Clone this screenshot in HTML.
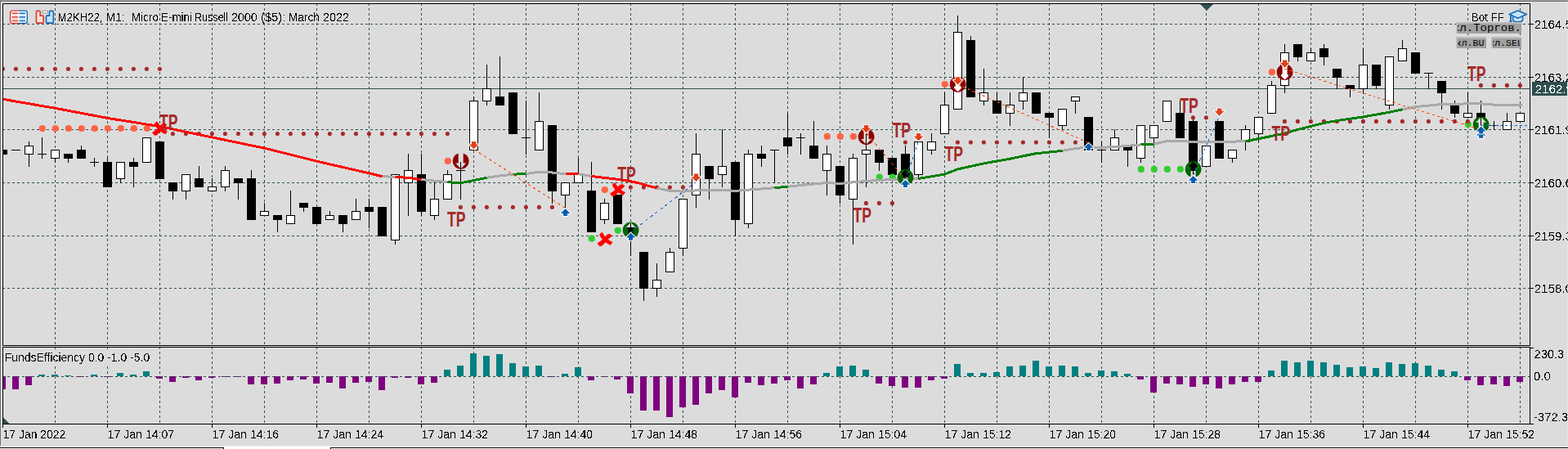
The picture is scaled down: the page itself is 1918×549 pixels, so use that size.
<!DOCTYPE html><html><head><meta charset="utf-8"><title>M2KH22 M1</title><style>html,body{margin:0;padding:0;background:#dcdcdc;overflow:hidden}body{width:1918px;height:549px;font-family:"Liberation Sans",sans-serif}svg{display:block}</style></head><body><svg width="1918" height="549" viewBox="0 0 1918 549" style="display:block">
<rect width="1918" height="549" fill="#dcdcdc"/>
<g shape-rendering="crispEdges">
<rect x="0" y="0" width="1918" height="1" fill="#a6a6a6"/>
<rect x="0" y="1" width="1918" height="1" fill="#6a6a6a"/>
<rect x="0" y="2" width="1918" height="1" fill="#e3e3e3"/>
<rect x="0" y="0" width="1" height="549" fill="#707070"/>
<rect x="1" y="2" width="1" height="547" fill="#e3e3e3"/>
<rect x="1917" y="2" width="1" height="547" fill="#e6e6e6"/>
<rect x="0" y="545" width="1918" height="1" fill="#ececec"/>
<rect x="0" y="546" width="1918" height="3" fill="#ffffff"/>
<rect x="0" y="547" width="274" height="1" fill="#000"/>
<rect x="273" y="547" width="1" height="2" fill="#000"/>
<rect x="404" y="547" width="1514" height="1" fill="#000"/>
<rect x="404" y="547" width="1" height="2" fill="#000"/>
</g>
<g shape-rendering="crispEdges" stroke="#2f4f4f" stroke-width="1" stroke-dasharray="3,3" fill="none">
<line x1="67.5" y1="4" x2="67.5" y2="422"/>
<line x1="67.5" y1="424" x2="67.5" y2="518"/>
<line x1="131.5" y1="4" x2="131.5" y2="422"/>
<line x1="131.5" y1="424" x2="131.5" y2="518"/>
<line x1="195.5" y1="4" x2="195.5" y2="422"/>
<line x1="195.5" y1="424" x2="195.5" y2="518"/>
<line x1="259.5" y1="4" x2="259.5" y2="422"/>
<line x1="259.5" y1="424" x2="259.5" y2="518"/>
<line x1="323.5" y1="4" x2="323.5" y2="422"/>
<line x1="323.5" y1="424" x2="323.5" y2="518"/>
<line x1="387.5" y1="4" x2="387.5" y2="422"/>
<line x1="387.5" y1="424" x2="387.5" y2="518"/>
<line x1="451.5" y1="4" x2="451.5" y2="422"/>
<line x1="451.5" y1="424" x2="451.5" y2="518"/>
<line x1="515.5" y1="4" x2="515.5" y2="422"/>
<line x1="515.5" y1="424" x2="515.5" y2="518"/>
<line x1="579.5" y1="4" x2="579.5" y2="422"/>
<line x1="579.5" y1="424" x2="579.5" y2="518"/>
<line x1="643.5" y1="4" x2="643.5" y2="422"/>
<line x1="643.5" y1="424" x2="643.5" y2="518"/>
<line x1="707.5" y1="4" x2="707.5" y2="422"/>
<line x1="707.5" y1="424" x2="707.5" y2="518"/>
<line x1="771.5" y1="4" x2="771.5" y2="422"/>
<line x1="771.5" y1="424" x2="771.5" y2="518"/>
<line x1="835.5" y1="4" x2="835.5" y2="422"/>
<line x1="835.5" y1="424" x2="835.5" y2="518"/>
<line x1="899.5" y1="4" x2="899.5" y2="422"/>
<line x1="899.5" y1="424" x2="899.5" y2="518"/>
<line x1="963.5" y1="4" x2="963.5" y2="422"/>
<line x1="963.5" y1="424" x2="963.5" y2="518"/>
<line x1="1027.5" y1="4" x2="1027.5" y2="422"/>
<line x1="1027.5" y1="424" x2="1027.5" y2="518"/>
<line x1="1091.5" y1="4" x2="1091.5" y2="422"/>
<line x1="1091.5" y1="424" x2="1091.5" y2="518"/>
<line x1="1155.5" y1="4" x2="1155.5" y2="422"/>
<line x1="1155.5" y1="424" x2="1155.5" y2="518"/>
<line x1="1219.5" y1="4" x2="1219.5" y2="422"/>
<line x1="1219.5" y1="424" x2="1219.5" y2="518"/>
<line x1="1283.5" y1="4" x2="1283.5" y2="422"/>
<line x1="1283.5" y1="424" x2="1283.5" y2="518"/>
<line x1="1347.5" y1="4" x2="1347.5" y2="422"/>
<line x1="1347.5" y1="424" x2="1347.5" y2="518"/>
<line x1="1411.5" y1="4" x2="1411.5" y2="422"/>
<line x1="1411.5" y1="424" x2="1411.5" y2="518"/>
<line x1="1475.5" y1="4" x2="1475.5" y2="422"/>
<line x1="1475.5" y1="424" x2="1475.5" y2="518"/>
<line x1="1539.5" y1="4" x2="1539.5" y2="422"/>
<line x1="1539.5" y1="424" x2="1539.5" y2="518"/>
<line x1="1603.5" y1="4" x2="1603.5" y2="422"/>
<line x1="1603.5" y1="424" x2="1603.5" y2="518"/>
<line x1="1667.5" y1="4" x2="1667.5" y2="422"/>
<line x1="1667.5" y1="424" x2="1667.5" y2="518"/>
<line x1="1731.5" y1="4" x2="1731.5" y2="422"/>
<line x1="1731.5" y1="424" x2="1731.5" y2="518"/>
<line x1="1795.5" y1="4" x2="1795.5" y2="422"/>
<line x1="1795.5" y1="424" x2="1795.5" y2="518"/>
<line x1="1859.5" y1="4" x2="1859.5" y2="422"/>
<line x1="1859.5" y1="424" x2="1859.5" y2="518"/>
<line x1="3" y1="29.5" x2="1871" y2="29.5"/>
<line x1="3" y1="94.5" x2="1871" y2="94.5"/>
<line x1="3" y1="158.5" x2="1871" y2="158.5"/>
<line x1="3" y1="223.5" x2="1871" y2="223.5"/>
<line x1="3" y1="288.5" x2="1871" y2="288.5"/>
<line x1="3" y1="352.5" x2="1871" y2="352.5"/>
<line x1="3" y1="460.5" x2="1871" y2="460.5"/>
</g>
<rect x="4" y="108" width="1867" height="1" fill="#2f4f4f" shape-rendering="crispEdges"/>
<g shape-rendering="crispEdges">
<rect x="4" y="460" width="3" height="16" fill="#800080"/>
<rect x="15" y="460" width="8" height="16" fill="#800080"/>
<rect x="31" y="460" width="8" height="11" fill="#800080"/>
<rect x="47" y="458" width="8" height="2" fill="#008080"/>
<rect x="63" y="458" width="8" height="2" fill="#008080"/>
<rect x="79" y="459" width="8" height="1" fill="#008080"/>
<rect x="95" y="460" width="8" height="1" fill="#800080"/>
<rect x="111" y="458" width="8" height="2" fill="#008080"/>
<rect x="127" y="460" width="8" height="1" fill="#800080"/>
<rect x="143" y="456" width="8" height="4" fill="#008080"/>
<rect x="159" y="458" width="8" height="2" fill="#008080"/>
<rect x="175" y="454" width="8" height="6" fill="#008080"/>
<rect x="191" y="460" width="8" height="3" fill="#800080"/>
<rect x="207" y="460" width="8" height="7" fill="#800080"/>
<rect x="223" y="460" width="8" height="2" fill="#800080"/>
<rect x="239" y="460" width="8" height="5" fill="#800080"/>
<rect x="255" y="460" width="8" height="2" fill="#800080"/>
<rect x="271" y="460" width="8" height="1" fill="#800080"/>
<rect x="287" y="460" width="8" height="1" fill="#800080"/>
<rect x="303" y="460" width="8" height="10" fill="#800080"/>
<rect x="319" y="460" width="8" height="10" fill="#800080"/>
<rect x="335" y="460" width="8" height="9" fill="#800080"/>
<rect x="351" y="460" width="8" height="5" fill="#800080"/>
<rect x="367" y="460" width="8" height="4" fill="#800080"/>
<rect x="383" y="460" width="8" height="9" fill="#800080"/>
<rect x="399" y="460" width="8" height="8" fill="#800080"/>
<rect x="415" y="460" width="8" height="15" fill="#800080"/>
<rect x="431" y="460" width="8" height="8" fill="#800080"/>
<rect x="447" y="460" width="8" height="7" fill="#800080"/>
<rect x="463" y="460" width="8" height="17" fill="#800080"/>
<rect x="479" y="460" width="8" height="2" fill="#800080"/>
<rect x="495" y="460" width="8" height="2" fill="#800080"/>
<rect x="511" y="460" width="8" height="10" fill="#800080"/>
<rect x="527" y="460" width="8" height="8" fill="#800080"/>
<rect x="543" y="452" width="8" height="8" fill="#008080"/>
<rect x="559" y="447" width="8" height="13" fill="#008080"/>
<rect x="575" y="432" width="8" height="28" fill="#008080"/>
<rect x="591" y="435" width="8" height="25" fill="#008080"/>
<rect x="607" y="433" width="8" height="27" fill="#008080"/>
<rect x="623" y="444" width="8" height="16" fill="#008080"/>
<rect x="639" y="448" width="8" height="12" fill="#008080"/>
<rect x="655" y="447" width="8" height="13" fill="#008080"/>
<rect x="671" y="460" width="8" height="1" fill="#800080"/>
<rect x="687" y="457" width="8" height="3" fill="#008080"/>
<rect x="703" y="449" width="8" height="11" fill="#008080"/>
<rect x="719" y="460" width="8" height="5" fill="#800080"/>
<rect x="735" y="460" width="8" height="1" fill="#800080"/>
<rect x="751" y="460" width="8" height="4" fill="#800080"/>
<rect x="767" y="460" width="8" height="21" fill="#800080"/>
<rect x="783" y="460" width="8" height="42" fill="#800080"/>
<rect x="799" y="460" width="8" height="42" fill="#800080"/>
<rect x="815" y="460" width="8" height="50" fill="#800080"/>
<rect x="831" y="460" width="8" height="38" fill="#800080"/>
<rect x="847" y="460" width="8" height="35" fill="#800080"/>
<rect x="863" y="460" width="8" height="21" fill="#800080"/>
<rect x="879" y="460" width="8" height="17" fill="#800080"/>
<rect x="895" y="460" width="8" height="26" fill="#800080"/>
<rect x="911" y="460" width="8" height="8" fill="#800080"/>
<rect x="927" y="460" width="8" height="11" fill="#800080"/>
<rect x="943" y="460" width="8" height="9" fill="#800080"/>
<rect x="959" y="460" width="8" height="5" fill="#800080"/>
<rect x="975" y="460" width="8" height="15" fill="#800080"/>
<rect x="991" y="460" width="8" height="10" fill="#800080"/>
<rect x="1007" y="456" width="8" height="4" fill="#008080"/>
<rect x="1023" y="448" width="8" height="12" fill="#008080"/>
<rect x="1039" y="447" width="8" height="13" fill="#008080"/>
<rect x="1055" y="452" width="8" height="8" fill="#008080"/>
<rect x="1071" y="460" width="8" height="9" fill="#800080"/>
<rect x="1087" y="460" width="8" height="12" fill="#800080"/>
<rect x="1103" y="460" width="8" height="14" fill="#800080"/>
<rect x="1119" y="460" width="8" height="14" fill="#800080"/>
<rect x="1135" y="460" width="8" height="5" fill="#800080"/>
<rect x="1151" y="460" width="8" height="3" fill="#800080"/>
<rect x="1167" y="445" width="8" height="15" fill="#008080"/>
<rect x="1183" y="456" width="8" height="4" fill="#008080"/>
<rect x="1199" y="456" width="8" height="4" fill="#008080"/>
<rect x="1215" y="455" width="8" height="5" fill="#008080"/>
<rect x="1231" y="448" width="8" height="12" fill="#008080"/>
<rect x="1247" y="447" width="8" height="13" fill="#008080"/>
<rect x="1263" y="441" width="8" height="19" fill="#008080"/>
<rect x="1279" y="448" width="8" height="12" fill="#008080"/>
<rect x="1295" y="447" width="8" height="13" fill="#008080"/>
<rect x="1311" y="448" width="8" height="12" fill="#008080"/>
<rect x="1327" y="456" width="8" height="4" fill="#008080"/>
<rect x="1343" y="453" width="8" height="7" fill="#008080"/>
<rect x="1359" y="454" width="8" height="6" fill="#008080"/>
<rect x="1375" y="457" width="8" height="3" fill="#008080"/>
<rect x="1391" y="460" width="8" height="4" fill="#800080"/>
<rect x="1407" y="460" width="8" height="20" fill="#800080"/>
<rect x="1423" y="460" width="8" height="9" fill="#800080"/>
<rect x="1439" y="460" width="8" height="10" fill="#800080"/>
<rect x="1455" y="460" width="8" height="13" fill="#800080"/>
<rect x="1471" y="460" width="8" height="10" fill="#800080"/>
<rect x="1487" y="460" width="8" height="15" fill="#800080"/>
<rect x="1503" y="460" width="8" height="10" fill="#800080"/>
<rect x="1519" y="460" width="8" height="7" fill="#800080"/>
<rect x="1535" y="460" width="8" height="7" fill="#800080"/>
<rect x="1551" y="453" width="8" height="7" fill="#008080"/>
<rect x="1567" y="441" width="8" height="19" fill="#008080"/>
<rect x="1583" y="443" width="8" height="17" fill="#008080"/>
<rect x="1599" y="441" width="8" height="19" fill="#008080"/>
<rect x="1615" y="443" width="8" height="17" fill="#008080"/>
<rect x="1631" y="446" width="8" height="14" fill="#008080"/>
<rect x="1647" y="449" width="8" height="11" fill="#008080"/>
<rect x="1663" y="448" width="8" height="12" fill="#008080"/>
<rect x="1679" y="450" width="8" height="10" fill="#008080"/>
<rect x="1695" y="443" width="8" height="17" fill="#008080"/>
<rect x="1711" y="445" width="8" height="15" fill="#008080"/>
<rect x="1727" y="444" width="8" height="16" fill="#008080"/>
<rect x="1743" y="447" width="8" height="13" fill="#008080"/>
<rect x="1759" y="452" width="8" height="8" fill="#008080"/>
<rect x="1775" y="454" width="8" height="6" fill="#008080"/>
<rect x="1791" y="460" width="8" height="5" fill="#800080"/>
<rect x="1807" y="460" width="8" height="11" fill="#800080"/>
<rect x="1823" y="460" width="8" height="10" fill="#800080"/>
<rect x="1839" y="460" width="8" height="12" fill="#800080"/>
<rect x="1855" y="460" width="8" height="7" fill="#800080"/>
</g>
<line x1="3" y1="460.5" x2="1871" y2="460.5" stroke="#2f4f4f" stroke-dasharray="3,3" shape-rendering="crispEdges"/>
<g shape-rendering="crispEdges">
<rect x="3" y="183" width="1" height="6" fill="#000"/>
<rect x="4" y="183" width="5" height="6" fill="#000"/>
<rect x="19" y="183" width="1" height="1" fill="#000"/>
<rect x="14" y="183" width="11" height="1" fill="#000"/>
<rect x="35" y="173" width="1" height="31" fill="#000"/>
<rect x="30" y="178" width="11" height="11" fill="#000"/>
<rect x="31" y="179" width="9" height="9" fill="#fff"/>
<rect x="51" y="168" width="1" height="26" fill="#000"/>
<rect x="46" y="188" width="11" height="1" fill="#000"/>
<rect x="67" y="183" width="1" height="16" fill="#000"/>
<rect x="62" y="183" width="11" height="11" fill="#000"/>
<rect x="63" y="184" width="9" height="9" fill="#fff"/>
<rect x="83" y="188" width="1" height="11" fill="#000"/>
<rect x="78" y="188" width="11" height="6" fill="#000"/>
<rect x="99" y="178" width="1" height="16" fill="#000"/>
<rect x="94" y="183" width="11" height="11" fill="#000"/>
<rect x="115" y="193" width="1" height="11" fill="#000"/>
<rect x="110" y="198" width="11" height="1" fill="#000"/>
<rect x="131" y="193" width="1" height="36" fill="#000"/>
<rect x="126" y="198" width="11" height="31" fill="#000"/>
<rect x="147" y="198" width="1" height="26" fill="#000"/>
<rect x="142" y="198" width="11" height="21" fill="#000"/>
<rect x="143" y="199" width="9" height="19" fill="#fff"/>
<rect x="163" y="193" width="1" height="36" fill="#000"/>
<rect x="158" y="198" width="11" height="6" fill="#000"/>
<rect x="179" y="168" width="1" height="31" fill="#000"/>
<rect x="174" y="168" width="11" height="31" fill="#000"/>
<rect x="175" y="169" width="9" height="29" fill="#fff"/>
<rect x="195" y="173" width="1" height="46" fill="#000"/>
<rect x="190" y="173" width="11" height="46" fill="#000"/>
<rect x="211" y="223" width="1" height="21" fill="#000"/>
<rect x="206" y="223" width="11" height="11" fill="#000"/>
<rect x="227" y="213" width="1" height="31" fill="#000"/>
<rect x="222" y="213" width="11" height="21" fill="#000"/>
<rect x="223" y="214" width="9" height="19" fill="#fff"/>
<rect x="243" y="203" width="1" height="26" fill="#000"/>
<rect x="238" y="218" width="11" height="11" fill="#000"/>
<rect x="259" y="218" width="1" height="16" fill="#000"/>
<rect x="254" y="228" width="11" height="6" fill="#000"/>
<rect x="255" y="229" width="9" height="4" fill="#fff"/>
<rect x="275" y="203" width="1" height="31" fill="#000"/>
<rect x="270" y="208" width="11" height="21" fill="#000"/>
<rect x="271" y="209" width="9" height="19" fill="#fff"/>
<rect x="291" y="218" width="1" height="26" fill="#000"/>
<rect x="286" y="218" width="11" height="6" fill="#000"/>
<rect x="307" y="208" width="1" height="61" fill="#000"/>
<rect x="302" y="218" width="11" height="51" fill="#000"/>
<rect x="323" y="248" width="1" height="16" fill="#000"/>
<rect x="318" y="258" width="11" height="6" fill="#000"/>
<rect x="319" y="259" width="9" height="4" fill="#fff"/>
<rect x="339" y="263" width="1" height="21" fill="#000"/>
<rect x="334" y="263" width="11" height="6" fill="#000"/>
<rect x="355" y="233" width="1" height="41" fill="#000"/>
<rect x="350" y="263" width="11" height="11" fill="#000"/>
<rect x="351" y="264" width="9" height="9" fill="#fff"/>
<rect x="371" y="248" width="1" height="11" fill="#000"/>
<rect x="366" y="248" width="11" height="6" fill="#000"/>
<rect x="387" y="253" width="1" height="21" fill="#000"/>
<rect x="382" y="253" width="11" height="21" fill="#000"/>
<rect x="403" y="258" width="1" height="11" fill="#000"/>
<rect x="398" y="263" width="11" height="6" fill="#000"/>
<rect x="399" y="264" width="9" height="4" fill="#fff"/>
<rect x="419" y="263" width="1" height="21" fill="#000"/>
<rect x="414" y="263" width="11" height="11" fill="#000"/>
<rect x="435" y="243" width="1" height="26" fill="#000"/>
<rect x="430" y="258" width="11" height="11" fill="#000"/>
<rect x="431" y="259" width="9" height="9" fill="#fff"/>
<rect x="451" y="243" width="1" height="36" fill="#000"/>
<rect x="446" y="253" width="11" height="6" fill="#000"/>
<rect x="467" y="253" width="1" height="36" fill="#000"/>
<rect x="462" y="253" width="11" height="36" fill="#000"/>
<rect x="483" y="213" width="1" height="86" fill="#000"/>
<rect x="478" y="213" width="11" height="81" fill="#000"/>
<rect x="479" y="214" width="9" height="79" fill="#fff"/>
<rect x="499" y="188" width="1" height="76" fill="#000"/>
<rect x="494" y="208" width="11" height="16" fill="#000"/>
<rect x="495" y="209" width="9" height="14" fill="#fff"/>
<rect x="515" y="188" width="1" height="76" fill="#000"/>
<rect x="510" y="213" width="11" height="46" fill="#000"/>
<rect x="531" y="223" width="1" height="46" fill="#000"/>
<rect x="526" y="243" width="11" height="21" fill="#000"/>
<rect x="527" y="244" width="9" height="19" fill="#fff"/>
<rect x="547" y="208" width="1" height="36" fill="#000"/>
<rect x="542" y="213" width="11" height="31" fill="#000"/>
<rect x="543" y="214" width="9" height="29" fill="#fff"/>
<rect x="563" y="198" width="1" height="46" fill="#000"/>
<rect x="558" y="208" width="11" height="1" fill="#000"/>
<rect x="579" y="118" width="1" height="66" fill="#000"/>
<rect x="574" y="123" width="11" height="61" fill="#000"/>
<rect x="575" y="124" width="9" height="59" fill="#fff"/>
<rect x="595" y="79" width="1" height="50" fill="#000"/>
<rect x="590" y="108" width="11" height="16" fill="#000"/>
<rect x="591" y="109" width="9" height="14" fill="#fff"/>
<rect x="611" y="69" width="1" height="60" fill="#000"/>
<rect x="606" y="118" width="11" height="11" fill="#000"/>
<rect x="627" y="113" width="1" height="51" fill="#000"/>
<rect x="622" y="113" width="11" height="51" fill="#000"/>
<rect x="643" y="123" width="1" height="66" fill="#000"/>
<rect x="638" y="168" width="11" height="1" fill="#000"/>
<rect x="659" y="113" width="1" height="71" fill="#000"/>
<rect x="654" y="148" width="11" height="36" fill="#000"/>
<rect x="655" y="149" width="9" height="34" fill="#fff"/>
<rect x="675" y="153" width="1" height="96" fill="#000"/>
<rect x="670" y="153" width="11" height="81" fill="#000"/>
<rect x="691" y="223" width="1" height="31" fill="#000"/>
<rect x="686" y="223" width="11" height="16" fill="#000"/>
<rect x="687" y="224" width="9" height="14" fill="#fff"/>
<rect x="707" y="193" width="1" height="31" fill="#000"/>
<rect x="702" y="213" width="11" height="11" fill="#000"/>
<rect x="703" y="214" width="9" height="9" fill="#fff"/>
<rect x="723" y="198" width="1" height="86" fill="#000"/>
<rect x="718" y="233" width="11" height="51" fill="#000"/>
<rect x="739" y="243" width="1" height="31" fill="#000"/>
<rect x="734" y="248" width="11" height="21" fill="#000"/>
<rect x="735" y="249" width="9" height="19" fill="#fff"/>
<rect x="755" y="238" width="1" height="36" fill="#000"/>
<rect x="750" y="238" width="11" height="36" fill="#000"/>
<rect x="771" y="273" width="1" height="40" fill="#000"/>
<rect x="766" y="278" width="11" height="11" fill="#000"/>
<rect x="787" y="308" width="1" height="60" fill="#000"/>
<rect x="782" y="308" width="11" height="45" fill="#000"/>
<rect x="803" y="322" width="1" height="41" fill="#000"/>
<rect x="798" y="342" width="11" height="11" fill="#000"/>
<rect x="799" y="343" width="9" height="9" fill="#fff"/>
<rect x="819" y="303" width="1" height="30" fill="#000"/>
<rect x="814" y="308" width="11" height="25" fill="#000"/>
<rect x="815" y="309" width="9" height="23" fill="#fff"/>
<rect x="835" y="243" width="1" height="70" fill="#000"/>
<rect x="830" y="243" width="11" height="61" fill="#000"/>
<rect x="831" y="244" width="9" height="59" fill="#fff"/>
<rect x="851" y="163" width="1" height="91" fill="#000"/>
<rect x="846" y="188" width="11" height="51" fill="#000"/>
<rect x="847" y="189" width="9" height="49" fill="#fff"/>
<rect x="867" y="203" width="1" height="41" fill="#000"/>
<rect x="862" y="203" width="11" height="16" fill="#000"/>
<rect x="883" y="158" width="1" height="71" fill="#000"/>
<rect x="878" y="203" width="11" height="11" fill="#000"/>
<rect x="879" y="204" width="9" height="9" fill="#fff"/>
<rect x="899" y="198" width="1" height="91" fill="#000"/>
<rect x="894" y="198" width="11" height="71" fill="#000"/>
<rect x="915" y="183" width="1" height="96" fill="#000"/>
<rect x="910" y="188" width="11" height="86" fill="#000"/>
<rect x="911" y="189" width="9" height="84" fill="#fff"/>
<rect x="931" y="178" width="1" height="26" fill="#000"/>
<rect x="926" y="188" width="11" height="6" fill="#000"/>
<rect x="947" y="183" width="1" height="41" fill="#000"/>
<rect x="942" y="183" width="11" height="1" fill="#000"/>
<rect x="963" y="138" width="1" height="51" fill="#000"/>
<rect x="958" y="168" width="11" height="11" fill="#000"/>
<rect x="979" y="163" width="1" height="26" fill="#000"/>
<rect x="974" y="168" width="11" height="1" fill="#000"/>
<rect x="995" y="148" width="1" height="46" fill="#000"/>
<rect x="990" y="178" width="11" height="16" fill="#000"/>
<rect x="1011" y="178" width="1" height="61" fill="#000"/>
<rect x="1006" y="188" width="11" height="21" fill="#000"/>
<rect x="1007" y="189" width="9" height="19" fill="#fff"/>
<rect x="1027" y="203" width="1" height="46" fill="#000"/>
<rect x="1022" y="203" width="11" height="36" fill="#000"/>
<rect x="1043" y="188" width="1" height="111" fill="#000"/>
<rect x="1038" y="193" width="11" height="51" fill="#000"/>
<rect x="1039" y="194" width="9" height="49" fill="#fff"/>
<rect x="1059" y="163" width="1" height="66" fill="#000"/>
<rect x="1054" y="183" width="11" height="6" fill="#000"/>
<rect x="1055" y="184" width="9" height="4" fill="#fff"/>
<rect x="1075" y="183" width="1" height="26" fill="#000"/>
<rect x="1070" y="183" width="11" height="16" fill="#000"/>
<rect x="1091" y="193" width="1" height="21" fill="#000"/>
<rect x="1086" y="193" width="11" height="21" fill="#000"/>
<rect x="1107" y="178" width="1" height="41" fill="#000"/>
<rect x="1102" y="188" width="11" height="31" fill="#000"/>
<rect x="1123" y="173" width="1" height="46" fill="#000"/>
<rect x="1118" y="173" width="11" height="41" fill="#000"/>
<rect x="1119" y="174" width="9" height="39" fill="#fff"/>
<rect x="1139" y="163" width="1" height="26" fill="#000"/>
<rect x="1134" y="173" width="11" height="11" fill="#000"/>
<rect x="1135" y="174" width="9" height="9" fill="#fff"/>
<rect x="1155" y="113" width="1" height="51" fill="#000"/>
<rect x="1150" y="128" width="11" height="36" fill="#000"/>
<rect x="1151" y="129" width="9" height="34" fill="#fff"/>
<rect x="1171" y="19" width="1" height="115" fill="#000"/>
<rect x="1166" y="39" width="11" height="95" fill="#000"/>
<rect x="1167" y="40" width="9" height="93" fill="#fff"/>
<rect x="1187" y="44" width="1" height="75" fill="#000"/>
<rect x="1182" y="49" width="11" height="70" fill="#000"/>
<rect x="1203" y="84" width="1" height="45" fill="#000"/>
<rect x="1198" y="113" width="11" height="11" fill="#000"/>
<rect x="1199" y="114" width="9" height="9" fill="#fff"/>
<rect x="1219" y="113" width="1" height="26" fill="#000"/>
<rect x="1214" y="123" width="11" height="16" fill="#000"/>
<rect x="1235" y="113" width="1" height="41" fill="#000"/>
<rect x="1230" y="128" width="11" height="11" fill="#000"/>
<rect x="1231" y="129" width="9" height="9" fill="#fff"/>
<rect x="1251" y="94" width="1" height="40" fill="#000"/>
<rect x="1246" y="113" width="11" height="11" fill="#000"/>
<rect x="1247" y="114" width="9" height="9" fill="#fff"/>
<rect x="1267" y="113" width="1" height="26" fill="#000"/>
<rect x="1262" y="113" width="11" height="26" fill="#000"/>
<rect x="1283" y="138" width="1" height="31" fill="#000"/>
<rect x="1278" y="138" width="11" height="6" fill="#000"/>
<rect x="1299" y="133" width="1" height="26" fill="#000"/>
<rect x="1294" y="133" width="11" height="21" fill="#000"/>
<rect x="1295" y="134" width="9" height="19" fill="#fff"/>
<rect x="1315" y="118" width="1" height="21" fill="#000"/>
<rect x="1310" y="118" width="11" height="6" fill="#000"/>
<rect x="1311" y="119" width="9" height="4" fill="#fff"/>
<rect x="1331" y="143" width="1" height="41" fill="#000"/>
<rect x="1326" y="143" width="11" height="41" fill="#000"/>
<rect x="1347" y="173" width="1" height="26" fill="#000"/>
<rect x="1342" y="183" width="11" height="1" fill="#000"/>
<rect x="1363" y="158" width="1" height="26" fill="#000"/>
<rect x="1358" y="168" width="11" height="16" fill="#000"/>
<rect x="1359" y="169" width="9" height="14" fill="#fff"/>
<rect x="1379" y="178" width="1" height="26" fill="#000"/>
<rect x="1374" y="178" width="11" height="6" fill="#000"/>
<rect x="1395" y="153" width="1" height="46" fill="#000"/>
<rect x="1390" y="153" width="11" height="41" fill="#000"/>
<rect x="1391" y="154" width="9" height="39" fill="#fff"/>
<rect x="1411" y="153" width="1" height="21" fill="#000"/>
<rect x="1406" y="153" width="11" height="16" fill="#000"/>
<rect x="1407" y="154" width="9" height="14" fill="#fff"/>
<rect x="1427" y="123" width="1" height="26" fill="#000"/>
<rect x="1422" y="123" width="11" height="26" fill="#000"/>
<rect x="1423" y="124" width="9" height="24" fill="#fff"/>
<rect x="1443" y="123" width="1" height="46" fill="#000"/>
<rect x="1438" y="138" width="11" height="31" fill="#000"/>
<rect x="1459" y="143" width="1" height="76" fill="#000"/>
<rect x="1454" y="148" width="11" height="61" fill="#000"/>
<rect x="1475" y="178" width="1" height="26" fill="#000"/>
<rect x="1470" y="178" width="11" height="26" fill="#000"/>
<rect x="1471" y="179" width="9" height="24" fill="#fff"/>
<rect x="1491" y="148" width="1" height="46" fill="#000"/>
<rect x="1486" y="148" width="11" height="46" fill="#000"/>
<rect x="1507" y="183" width="1" height="16" fill="#000"/>
<rect x="1502" y="183" width="11" height="11" fill="#000"/>
<rect x="1503" y="184" width="9" height="9" fill="#fff"/>
<rect x="1523" y="153" width="1" height="31" fill="#000"/>
<rect x="1518" y="158" width="11" height="16" fill="#000"/>
<rect x="1519" y="159" width="9" height="14" fill="#fff"/>
<rect x="1539" y="143" width="1" height="31" fill="#000"/>
<rect x="1534" y="143" width="11" height="21" fill="#000"/>
<rect x="1535" y="144" width="9" height="19" fill="#fff"/>
<rect x="1555" y="99" width="1" height="40" fill="#000"/>
<rect x="1550" y="104" width="11" height="35" fill="#000"/>
<rect x="1551" y="105" width="9" height="33" fill="#fff"/>
<rect x="1571" y="54" width="1" height="60" fill="#000"/>
<rect x="1566" y="64" width="11" height="41" fill="#000"/>
<rect x="1567" y="65" width="9" height="39" fill="#fff"/>
<rect x="1587" y="54" width="1" height="21" fill="#000"/>
<rect x="1582" y="54" width="11" height="16" fill="#000"/>
<rect x="1603" y="59" width="1" height="16" fill="#000"/>
<rect x="1598" y="64" width="11" height="11" fill="#000"/>
<rect x="1599" y="65" width="9" height="9" fill="#fff"/>
<rect x="1619" y="54" width="1" height="26" fill="#000"/>
<rect x="1614" y="59" width="11" height="11" fill="#000"/>
<rect x="1635" y="84" width="1" height="25" fill="#000"/>
<rect x="1630" y="84" width="11" height="11" fill="#000"/>
<rect x="1651" y="104" width="1" height="15" fill="#000"/>
<rect x="1646" y="104" width="11" height="5" fill="#000"/>
<rect x="1667" y="59" width="1" height="55" fill="#000"/>
<rect x="1662" y="79" width="11" height="30" fill="#000"/>
<rect x="1663" y="80" width="9" height="28" fill="#fff"/>
<rect x="1683" y="79" width="1" height="30" fill="#000"/>
<rect x="1678" y="79" width="11" height="26" fill="#000"/>
<rect x="1699" y="69" width="1" height="65" fill="#000"/>
<rect x="1694" y="69" width="11" height="60" fill="#000"/>
<rect x="1695" y="70" width="9" height="58" fill="#fff"/>
<rect x="1715" y="49" width="1" height="26" fill="#000"/>
<rect x="1710" y="59" width="11" height="16" fill="#000"/>
<rect x="1711" y="60" width="9" height="14" fill="#fff"/>
<rect x="1731" y="64" width="1" height="26" fill="#000"/>
<rect x="1726" y="64" width="11" height="26" fill="#000"/>
<rect x="1747" y="89" width="1" height="20" fill="#000"/>
<rect x="1742" y="89" width="11" height="1" fill="#000"/>
<rect x="1763" y="99" width="1" height="35" fill="#000"/>
<rect x="1758" y="99" width="11" height="15" fill="#000"/>
<rect x="1779" y="123" width="1" height="21" fill="#000"/>
<rect x="1774" y="128" width="11" height="11" fill="#000"/>
<rect x="1795" y="113" width="1" height="31" fill="#000"/>
<rect x="1790" y="138" width="11" height="6" fill="#000"/>
<rect x="1791" y="139" width="9" height="4" fill="#fff"/>
<rect x="1811" y="123" width="1" height="31" fill="#000"/>
<rect x="1806" y="138" width="11" height="6" fill="#000"/>
<rect x="1827" y="148" width="1" height="11" fill="#000"/>
<rect x="1822" y="153" width="11" height="1" fill="#000"/>
<rect x="1843" y="138" width="1" height="21" fill="#000"/>
<rect x="1838" y="148" width="11" height="11" fill="#000"/>
<rect x="1839" y="149" width="9" height="9" fill="#fff"/>
<rect x="1859" y="138" width="1" height="11" fill="#000"/>
<rect x="1854" y="138" width="11" height="11" fill="#000"/>
<rect x="1855" y="139" width="9" height="9" fill="#fff"/>
</g>
<g clip-path="url(#mainclip)">
<circle cx="51.8" cy="157" r="4.1" fill="#ff6347"/>
<circle cx="67.8" cy="157" r="4.1" fill="#ff6347"/>
<circle cx="83.8" cy="157" r="4.1" fill="#ff6347"/>
<circle cx="99.8" cy="157" r="4.1" fill="#ff6347"/>
<circle cx="115.8" cy="157" r="4.1" fill="#ff6347"/>
<circle cx="131.8" cy="157" r="4.1" fill="#ff6347"/>
<circle cx="147.8" cy="157" r="4.1" fill="#ff6347"/>
<circle cx="163.8" cy="157" r="4.1" fill="#ff6347"/>
<circle cx="179.8" cy="157" r="4.1" fill="#ff6347"/>
<circle cx="547.8" cy="196.9" r="4.1" fill="#ff6347"/>
<circle cx="739.8" cy="232.1" r="4.1" fill="#ff6347"/>
<circle cx="1011.8" cy="166.9" r="4.1" fill="#ff6347"/>
<circle cx="1027.8" cy="166.9" r="4.1" fill="#ff6347"/>
<circle cx="1043.8" cy="166.9" r="4.1" fill="#ff6347"/>
<circle cx="1155.8" cy="103" r="4.1" fill="#ff6347"/>
<circle cx="1555.8" cy="88.2" r="4.1" fill="#ff6347"/>
<circle cx="723.8" cy="291.7" r="4.1" fill="#32cd32"/>
<circle cx="755.8" cy="281.8" r="4.1" fill="#32cd32"/>
<circle cx="1075.8" cy="216.5" r="4.1" fill="#32cd32"/>
<circle cx="1091.8" cy="216.5" r="4.1" fill="#32cd32"/>
<circle cx="1395.8" cy="206.9" r="4.1" fill="#32cd32"/>
<circle cx="1411.8" cy="206.9" r="4.1" fill="#32cd32"/>
<circle cx="1427.8" cy="206.9" r="4.1" fill="#32cd32"/>
<circle cx="1443.8" cy="206.9" r="4.1" fill="#32cd32"/>
<circle cx="1795.8" cy="152" r="4.1" fill="#32cd32"/>
<circle cx="3.4" cy="84.2" r="2.55" fill="#a52a2a"/>
<circle cx="19.4" cy="84.2" r="2.55" fill="#a52a2a"/>
<circle cx="35.4" cy="84.2" r="2.55" fill="#a52a2a"/>
<circle cx="51.4" cy="84.2" r="2.55" fill="#a52a2a"/>
<circle cx="67.4" cy="84.2" r="2.55" fill="#a52a2a"/>
<circle cx="83.4" cy="84.2" r="2.55" fill="#a52a2a"/>
<circle cx="99.4" cy="84.2" r="2.55" fill="#a52a2a"/>
<circle cx="115.4" cy="84.2" r="2.55" fill="#a52a2a"/>
<circle cx="131.4" cy="84.2" r="2.55" fill="#a52a2a"/>
<circle cx="147.4" cy="84.2" r="2.55" fill="#a52a2a"/>
<circle cx="163.4" cy="84.2" r="2.55" fill="#a52a2a"/>
<circle cx="179.4" cy="84.2" r="2.55" fill="#a52a2a"/>
<circle cx="195.4" cy="84.2" r="2.55" fill="#a52a2a"/>
<circle cx="211.4" cy="163.5" r="2.55" fill="#a52a2a"/>
<circle cx="227.4" cy="163.5" r="2.55" fill="#a52a2a"/>
<circle cx="243.4" cy="163.5" r="2.55" fill="#a52a2a"/>
<circle cx="259.4" cy="163.5" r="2.55" fill="#a52a2a"/>
<circle cx="275.4" cy="163.5" r="2.55" fill="#a52a2a"/>
<circle cx="291.4" cy="163.5" r="2.55" fill="#a52a2a"/>
<circle cx="307.4" cy="163.5" r="2.55" fill="#a52a2a"/>
<circle cx="323.4" cy="163.5" r="2.55" fill="#a52a2a"/>
<circle cx="339.4" cy="163.5" r="2.55" fill="#a52a2a"/>
<circle cx="355.4" cy="163.5" r="2.55" fill="#a52a2a"/>
<circle cx="371.4" cy="163.5" r="2.55" fill="#a52a2a"/>
<circle cx="387.4" cy="163.5" r="2.55" fill="#a52a2a"/>
<circle cx="403.4" cy="163.5" r="2.55" fill="#a52a2a"/>
<circle cx="419.4" cy="163.5" r="2.55" fill="#a52a2a"/>
<circle cx="435.4" cy="163.5" r="2.55" fill="#a52a2a"/>
<circle cx="451.4" cy="163.5" r="2.55" fill="#a52a2a"/>
<circle cx="467.4" cy="163.5" r="2.55" fill="#a52a2a"/>
<circle cx="483.4" cy="163.5" r="2.55" fill="#a52a2a"/>
<circle cx="499.4" cy="163.5" r="2.55" fill="#a52a2a"/>
<circle cx="515.4" cy="163.5" r="2.55" fill="#a52a2a"/>
<circle cx="531.4" cy="163.5" r="2.55" fill="#a52a2a"/>
<circle cx="547.4" cy="163.5" r="2.55" fill="#a52a2a"/>
<circle cx="563.4" cy="253.4" r="2.55" fill="#a52a2a"/>
<circle cx="579.4" cy="253.4" r="2.55" fill="#a52a2a"/>
<circle cx="595.4" cy="253.4" r="2.55" fill="#a52a2a"/>
<circle cx="611.4" cy="253.4" r="2.55" fill="#a52a2a"/>
<circle cx="627.4" cy="253.4" r="2.55" fill="#a52a2a"/>
<circle cx="643.4" cy="253.4" r="2.55" fill="#a52a2a"/>
<circle cx="659.4" cy="253.4" r="2.55" fill="#a52a2a"/>
<circle cx="675.4" cy="253.4" r="2.55" fill="#a52a2a"/>
<circle cx="771.4" cy="229" r="2.55" fill="#a52a2a"/>
<circle cx="787.4" cy="229" r="2.55" fill="#a52a2a"/>
<circle cx="803.4" cy="229" r="2.55" fill="#a52a2a"/>
<circle cx="819.4" cy="229" r="2.55" fill="#a52a2a"/>
<circle cx="835.4" cy="229" r="2.55" fill="#a52a2a"/>
<circle cx="1059.4" cy="248.4" r="2.55" fill="#a52a2a"/>
<circle cx="1075.4" cy="248.4" r="2.55" fill="#a52a2a"/>
<circle cx="1091.4" cy="248.4" r="2.55" fill="#a52a2a"/>
<circle cx="1107.4" cy="174" r="2.55" fill="#a52a2a"/>
<circle cx="1171.4" cy="174" r="2.55" fill="#a52a2a"/>
<circle cx="1187.4" cy="174" r="2.55" fill="#a52a2a"/>
<circle cx="1203.4" cy="174" r="2.55" fill="#a52a2a"/>
<circle cx="1219.4" cy="174" r="2.55" fill="#a52a2a"/>
<circle cx="1235.4" cy="174" r="2.55" fill="#a52a2a"/>
<circle cx="1251.4" cy="174" r="2.55" fill="#a52a2a"/>
<circle cx="1267.4" cy="174" r="2.55" fill="#a52a2a"/>
<circle cx="1283.4" cy="174" r="2.55" fill="#a52a2a"/>
<circle cx="1299.4" cy="174" r="2.55" fill="#a52a2a"/>
<circle cx="1315.4" cy="174" r="2.55" fill="#a52a2a"/>
<circle cx="1459.4" cy="143.8" r="2.55" fill="#a52a2a"/>
<circle cx="1475.4" cy="143.8" r="2.55" fill="#a52a2a"/>
<circle cx="1571.4" cy="148.4" r="2.55" fill="#a52a2a"/>
<circle cx="1587.4" cy="148.4" r="2.55" fill="#a52a2a"/>
<circle cx="1603.4" cy="148.4" r="2.55" fill="#a52a2a"/>
<circle cx="1619.4" cy="148.4" r="2.55" fill="#a52a2a"/>
<circle cx="1635.4" cy="148.4" r="2.55" fill="#a52a2a"/>
<circle cx="1651.4" cy="148.4" r="2.55" fill="#a52a2a"/>
<circle cx="1667.4" cy="148.4" r="2.55" fill="#a52a2a"/>
<circle cx="1683.4" cy="148.4" r="2.55" fill="#a52a2a"/>
<circle cx="1699.4" cy="148.4" r="2.55" fill="#a52a2a"/>
<circle cx="1715.4" cy="148.4" r="2.55" fill="#a52a2a"/>
<circle cx="1731.4" cy="148.4" r="2.55" fill="#a52a2a"/>
<circle cx="1747.4" cy="148.4" r="2.55" fill="#a52a2a"/>
<circle cx="1763.4" cy="148.4" r="2.55" fill="#a52a2a"/>
<circle cx="1779.4" cy="148.4" r="2.55" fill="#a52a2a"/>
<circle cx="1795.4" cy="148.4" r="2.55" fill="#a52a2a"/>
<circle cx="1811.4" cy="104.4" r="2.55" fill="#a52a2a"/>
<circle cx="1827.4" cy="104.4" r="2.55" fill="#a52a2a"/>
<circle cx="1843.4" cy="104.4" r="2.55" fill="#a52a2a"/>
<circle cx="1859.4" cy="104.4" r="2.55" fill="#a52a2a"/>
</g>
<polyline points="3.5,121.3 67.5,132.3 131.5,144.4 195.5,154.6 240.5,164.0 259.5,167.9 323.5,181.2 387.5,197.2 451.5,211.8 467.5,215.7" fill="none" stroke="#ff0000" stroke-width="3" stroke-linecap="butt" stroke-linejoin="round" shape-rendering="crispEdges"/>
<polyline points="467.5,215.7 483.5,216.4" fill="none" stroke="#a9a9a9" stroke-width="3" stroke-linecap="butt" stroke-linejoin="round" shape-rendering="crispEdges"/>
<polyline points="483.5,216.4 499.5,217.4 515.5,219.6" fill="none" stroke="#ff0000" stroke-width="3" stroke-linecap="butt" stroke-linejoin="round" shape-rendering="crispEdges"/>
<polyline points="515.5,219.6 531.5,221.2 547.5,222.5" fill="none" stroke="#a9a9a9" stroke-width="3" stroke-linecap="butt" stroke-linejoin="round" shape-rendering="crispEdges"/>
<polyline points="547.5,222.5 562.5,223.8 579.5,220.6 595.5,217.2" fill="none" stroke="#008000" stroke-width="3" stroke-linecap="butt" stroke-linejoin="round" shape-rendering="crispEdges"/>
<polyline points="595.5,217.2 611.5,214.9 627.5,213.2" fill="none" stroke="#a9a9a9" stroke-width="3" stroke-linecap="butt" stroke-linejoin="round" shape-rendering="crispEdges"/>
<polyline points="627.5,213.2 643.5,212.5" fill="none" stroke="#008000" stroke-width="3" stroke-linecap="butt" stroke-linejoin="round" shape-rendering="crispEdges"/>
<polyline points="643.5,212.5 659.5,210.2 675.5,211.0 691.5,212.7" fill="none" stroke="#a9a9a9" stroke-width="3" stroke-linecap="butt" stroke-linejoin="round" shape-rendering="crispEdges"/>
<polyline points="691.5,212.7 707.5,212.7" fill="none" stroke="#ff0000" stroke-width="3" stroke-linecap="butt" stroke-linejoin="round" shape-rendering="crispEdges"/>
<polyline points="707.5,212.7 723.5,215.5" fill="none" stroke="#a9a9a9" stroke-width="3" stroke-linecap="butt" stroke-linejoin="round" shape-rendering="crispEdges"/>
<polyline points="723.5,215.5 739.5,217.4 755.5,219.3 771.5,221.8 780.5,223.6 787.5,225.7 793.5,227.4 803.5,230.0" fill="none" stroke="#ff0000" stroke-width="3" stroke-linecap="butt" stroke-linejoin="round" shape-rendering="crispEdges"/>
<polyline points="803.5,230.0 819.5,233.4 835.5,234.2 851.5,232.9 867.5,232.1 883.5,232.5 899.5,233.4 915.5,232.1 931.5,231.0 947.5,229.6" fill="none" stroke="#a9a9a9" stroke-width="3" stroke-linecap="butt" stroke-linejoin="round" shape-rendering="crispEdges"/>
<polyline points="947.5,229.6 963.5,228.3" fill="none" stroke="#008000" stroke-width="3" stroke-linecap="butt" stroke-linejoin="round" shape-rendering="crispEdges"/>
<polyline points="963.5,228.3 979.5,226.5 995.5,224.9 1011.5,223.5 1027.5,224.5 1043.5,222.8 1059.5,221.5 1075.5,220.3 1091.5,219.6 1107.5,219.0 1123.5,218.4" fill="none" stroke="#a9a9a9" stroke-width="3" stroke-linecap="butt" stroke-linejoin="round" shape-rendering="crispEdges"/>
<polyline points="1123.5,218.4 1139.5,215.8 1155.5,213.0 1171.5,206.9 1187.5,203.3 1203.5,199.9 1219.5,196.9 1235.5,194.2 1251.5,190.8 1267.5,187.6 1283.5,186.1 1299.5,184.2" fill="none" stroke="#008000" stroke-width="3" stroke-linecap="butt" stroke-linejoin="round" shape-rendering="crispEdges"/>
<polyline points="1299.5,184.2 1315.5,181.6 1331.5,180.0 1347.5,180.3 1363.5,179.6 1379.5,178.3 1395.5,177.0" fill="none" stroke="#a9a9a9" stroke-width="3" stroke-linecap="butt" stroke-linejoin="round" shape-rendering="crispEdges"/>
<polyline points="1395.5,177.0 1411.5,176.1" fill="none" stroke="#008000" stroke-width="3" stroke-linecap="butt" stroke-linejoin="round" shape-rendering="crispEdges"/>
<polyline points="1411.5,176.1 1425.5,173.0 1442.5,172.7 1470.5,173.6 1500.5,173.3 1516.5,172.9 1523.5,172.8" fill="none" stroke="#a9a9a9" stroke-width="3" stroke-linecap="butt" stroke-linejoin="round" shape-rendering="crispEdges"/>
<polyline points="1523.5,172.8 1539.5,169.6 1555.5,166.4 1571.5,163.0 1587.5,158.4 1603.5,154.4 1619.5,150.4 1635.5,147.5 1651.5,145.2 1667.5,142.9 1683.5,140.1 1699.5,137.2 1715.5,133.8" fill="none" stroke="#008000" stroke-width="3" stroke-linecap="butt" stroke-linejoin="round" shape-rendering="crispEdges"/>
<polyline points="1715.5,133.8 1731.5,130.6 1747.5,129.1 1763.5,127.4 1779.5,127.4 1795.5,126.8 1811.5,126.8 1827.5,128.1 1843.5,128.3 1861.5,128.3" fill="none" stroke="#a9a9a9" stroke-width="3" stroke-linecap="butt" stroke-linejoin="round" shape-rendering="crispEdges"/>
<path d="M560.70,187.47A9.9,9.9 0 1,0 566.70,187.47L566.7,199.6L570.2,199.6L563.7,206.20000000000002L557.2,199.6L560.7,199.6Z" fill="#8b0000"/>
<path d="M1056.60,157.87A9.9,9.9 0 1,0 1062.60,157.87L1062.6,170.0L1066.1,170.0L1059.6,176.60000000000002L1053.1,170.0L1056.6,170.0Z" fill="#8b0000"/>
<path d="M1168.60,93.57A9.9,9.9 0 1,0 1174.60,93.57L1174.6,105.7L1178.1,105.7L1171.6,112.3L1165.1,105.7L1168.6,105.7Z" fill="#8b0000"/>
<path d="M1568.60,78.77A9.9,9.9 0 1,0 1574.60,78.77L1574.6,90.9L1578.1,90.9L1571.6,97.5L1565.1,90.9L1568.6,90.9Z" fill="#8b0000"/>
<path d="M774.60,290.83A9.9,9.9 0 1,0 768.60,290.83L768.6,278.7L765.1,278.7L771.6,272.09999999999997L778.1,278.7L774.6,278.7Z" fill="#006400"/>
<path d="M1110.50,226.33A9.9,9.9 0 1,0 1104.50,226.33L1104.5,214.20000000000002L1101.0,214.20000000000002L1107.5,207.6L1114.0,214.20000000000002L1110.5,214.20000000000002Z" fill="#006400"/>
<path d="M1462.60,216.33A9.9,9.9 0 1,0 1456.60,216.33L1456.6,204.20000000000002L1453.1,204.20000000000002L1459.6,197.6L1466.1,204.20000000000002L1462.6,204.20000000000002Z" fill="#006400"/>
<path d="M1814.60,161.83A9.9,9.9 0 1,0 1808.60,161.83L1808.6,149.70000000000002L1805.1,149.70000000000002L1811.6,143.1L1818.1,149.70000000000002L1814.6,149.70000000000002Z" fill="#006400"/>
<line x1="580" y1="182.8" x2="691.5" y2="254.5" stroke="#ff4500" stroke-width="1" stroke-dasharray="3.57,3.57" shape-rendering="crispEdges"/>
<line x1="771.5" y1="284" x2="851.5" y2="222.5" stroke="#1464c8" stroke-width="1" stroke-dasharray="3.78,3.78" shape-rendering="crispEdges"/>
<line x1="1059.6" y1="162.8" x2="1107.5" y2="219.5" stroke="#ff4500" stroke-width="1" stroke-dasharray="3.93,3.93" shape-rendering="crispEdges"/>
<line x1="1107.5" y1="219.5" x2="1123.5" y2="172.8" stroke="#1464c8" stroke-width="1" stroke-dasharray="3.17,3.17" shape-rendering="crispEdges"/>
<line x1="1171.5" y1="103.2" x2="1331.5" y2="174.6" stroke="#ff4500" stroke-width="1" stroke-dasharray="3.29,3.29" shape-rendering="crispEdges"/>
<line x1="1459.5" y1="214.5" x2="1491.5" y2="142" stroke="#1464c8" stroke-width="1" stroke-dasharray="3.28,3.28" shape-rendering="crispEdges"/>
<line x1="1571.5" y1="84.2" x2="1811.5" y2="158.5" stroke="#ff4500" stroke-width="1" stroke-dasharray="3.14,3.14" shape-rendering="crispEdges"/>
<line x1="1811" y1="153.5" x2="1871" y2="153.5" stroke="#1464c8" stroke-width="1" stroke-dasharray="3,3" shape-rendering="crispEdges"/>
<path d="M576.9,173.0H582.3000000000001V176.4H585.5L579.6,182.3L573.7,176.4H576.9Z" fill="#fff" stroke="#fff" stroke-width="2" stroke-linejoin="round"/><path d="M576.9,173.0H582.3000000000001V176.4H585.5L579.6,182.3L573.7,176.4H576.9Z" fill="#e2401a"/>
<path d="M848.8,212.6H854.2V216.0H857.4L851.5,221.9L845.6,216.0H848.8Z" fill="#fff" stroke="#fff" stroke-width="2" stroke-linejoin="round"/><path d="M848.8,212.6H854.2V216.0H857.4L851.5,221.9L845.6,216.0H848.8Z" fill="#e2401a"/>
<path d="M1056.8999999999999,153.0H1062.3V156.4H1065.5L1059.6,162.3L1053.6999999999998,156.4H1056.8999999999999Z" fill="#fff" stroke="#fff" stroke-width="2" stroke-linejoin="round"/><path d="M1056.8999999999999,153.0H1062.3V156.4H1065.5L1059.6,162.3L1053.6999999999998,156.4H1056.8999999999999Z" fill="#e2401a"/>
<path d="M1120.8999999999999,163.0H1126.3V166.4H1129.5L1123.6,172.3L1117.6999999999998,166.4H1120.8999999999999Z" fill="#fff" stroke="#fff" stroke-width="2" stroke-linejoin="round"/><path d="M1120.8999999999999,163.0H1126.3V166.4H1129.5L1123.6,172.3L1117.6999999999998,166.4H1120.8999999999999Z" fill="#e2401a"/>
<path d="M1168.8999999999999,94.2H1174.3V97.6H1177.5L1171.6,103.5L1165.6999999999998,97.6H1168.8999999999999Z" fill="#fff" stroke="#fff" stroke-width="2" stroke-linejoin="round"/><path d="M1168.8999999999999,94.2H1174.3V97.6H1177.5L1171.6,103.5L1165.6999999999998,97.6H1168.8999999999999Z" fill="#e2401a"/>
<path d="M1488.8999999999999,132.39999999999998H1494.3V135.79999999999998H1497.5L1491.6,141.7L1485.6999999999998,135.79999999999998H1488.8999999999999Z" fill="#fff" stroke="#fff" stroke-width="2" stroke-linejoin="round"/><path d="M1488.8999999999999,132.39999999999998H1494.3V135.79999999999998H1497.5L1491.6,141.7L1485.6999999999998,135.79999999999998H1488.8999999999999Z" fill="#e2401a"/>
<path d="M1568.8999999999999,73.4H1574.3V76.8H1577.5L1571.6,82.7L1565.6999999999998,76.8H1568.8999999999999Z" fill="#fff" stroke="#fff" stroke-width="2" stroke-linejoin="round"/><path d="M1568.8999999999999,73.4H1574.3V76.8H1577.5L1571.6,82.7L1565.6999999999998,76.8H1568.8999999999999Z" fill="#e2401a"/>
<path d="M689.1,264.1H694.1V260.9H697.4L691.6,255.1L685.8000000000001,260.9H689.1Z" fill="#fff" stroke="#fff" stroke-width="2" stroke-linejoin="round"/><path d="M689.1,264.1H694.1V260.9H697.4L691.6,255.1L685.8000000000001,260.9H689.1Z" fill="#0a5db0"/>
<path d="M769.1,293.7H774.1V290.5H777.4L771.6,284.7L765.8000000000001,290.5H769.1Z" fill="#fff" stroke="#fff" stroke-width="2" stroke-linejoin="round"/><path d="M769.1,293.7H774.1V290.5H777.4L771.6,284.7L765.8000000000001,290.5H769.1Z" fill="#0a5db0"/>
<path d="M1105.0,229H1110.0V225.8H1113.3L1107.5,220L1101.7,225.8H1105.0Z" fill="#fff" stroke="#fff" stroke-width="2" stroke-linejoin="round"/><path d="M1105.0,229H1110.0V225.8H1113.3L1107.5,220L1101.7,225.8H1105.0Z" fill="#0a5db0"/>
<path d="M1329.1,183.9H1334.1V180.70000000000002H1337.3999999999999L1331.6,174.9L1325.8,180.70000000000002H1329.1Z" fill="#fff" stroke="#fff" stroke-width="2" stroke-linejoin="round"/><path d="M1329.1,183.9H1334.1V180.70000000000002H1337.3999999999999L1331.6,174.9L1325.8,180.70000000000002H1329.1Z" fill="#0a5db0"/>
<path d="M1457.1,224H1462.1V220.8H1465.3999999999999L1459.6,215L1453.8,220.8H1457.1Z" fill="#fff" stroke="#fff" stroke-width="2" stroke-linejoin="round"/><path d="M1457.1,224H1462.1V220.8H1465.3999999999999L1459.6,215L1453.8,220.8H1457.1Z" fill="#0a5db0"/>
<path d="M1809.1,168.7H1814.1V165.5H1817.3999999999999L1811.6,159.7L1805.8,165.5H1809.1Z" fill="#fff" stroke="#fff" stroke-width="2" stroke-linejoin="round"/><path d="M1809.1,168.7H1814.1V165.5H1817.3999999999999L1811.6,159.7L1805.8,165.5H1809.1Z" fill="#0a5db0"/>
<path d="M1809.1,163.6H1814.1V160.4H1817.3999999999999L1811.6,154.6L1805.8,160.4H1809.1Z" fill="#fff" stroke="#fff" stroke-width="2" stroke-linejoin="round"/><path d="M1809.1,163.6H1814.1V160.4H1817.3999999999999L1811.6,154.6L1805.8,160.4H1809.1Z" fill="#0a5db0"/>
<path d="M191.3,149.0 L189.1,151.2 L190.2,153.9 L192.4,157.0 L195.4,159.7 L199.2,162.4 L202.2,164.1 L204.7,160.5 L201.4,158.9 L198.1,156.4 L195.4,153.9 L193.8,151.2 L192.4,149.0Z" fill="#ff0000" stroke="#ff0000" stroke-width="0.5" stroke-linejoin="round"/>
<path d="M198.7,151.2 L196.2,153.4 L194.3,155.9 L191.6,158.6 L186.4,161.9 L188.8,165.2 L191.6,165.2 L194.3,162.4 L197.0,159.7 L199.2,157.0 L202.5,154.5 L204.1,152.9 L201.7,150.7Z" fill="#ff0000" stroke="#ff0000" stroke-width="0.5" stroke-linejoin="round"/>
<path d="M751.3,223.7 L749.1,225.9 L750.2,228.6 L752.4,231.7 L755.4,234.4 L759.2,237.1 L762.2,238.8 L764.7,235.2 L761.4,233.6 L758.1,231.1 L755.4,228.6 L753.8,225.9 L752.4,223.7Z" fill="#ff0000" stroke="#ff0000" stroke-width="0.5" stroke-linejoin="round"/>
<path d="M758.7,225.9 L756.2,228.1 L754.3,230.6 L751.6,233.3 L746.4,236.6 L748.8,239.9 L751.6,239.9 L754.3,237.1 L757.0,234.4 L759.2,231.7 L762.5,229.2 L764.1,227.6 L761.7,225.4Z" fill="#ff0000" stroke="#ff0000" stroke-width="0.5" stroke-linejoin="round"/>
<path d="M735.7,284.5 L733.5,286.7 L734.6,289.4 L736.8,292.5 L739.8,295.2 L743.6,297.9 L746.6,299.6 L749.1,296.0 L745.8,294.4 L742.5,291.9 L739.8,289.4 L738.2,286.7 L736.8,284.5Z" fill="#ff0000" stroke="#ff0000" stroke-width="0.5" stroke-linejoin="round"/>
<path d="M743.1,286.7 L740.6,288.9 L738.7,291.4 L736.0,294.1 L730.8,297.4 L733.2,300.7 L736.0,300.7 L738.7,297.9 L741.4,295.2 L743.6,292.5 L746.9,290.0 L748.5,288.4 L746.1,286.2Z" fill="#ff0000" stroke="#ff0000" stroke-width="0.5" stroke-linejoin="round"/>
<text x="195" y="157.8" font-family="Liberation Sans, sans-serif" font-size="25" font-weight="bold" fill="#a52a2a" textLength="22.5" lengthAdjust="spacingAndGlyphs">TP</text>
<text x="547" y="276.6" font-family="Liberation Sans, sans-serif" font-size="25" font-weight="bold" fill="#a52a2a" textLength="22.5" lengthAdjust="spacingAndGlyphs">TP</text>
<text x="755.3" y="222.4" font-family="Liberation Sans, sans-serif" font-size="25" font-weight="bold" fill="#a52a2a" textLength="22.5" lengthAdjust="spacingAndGlyphs">TP</text>
<text x="1043.4" y="271.7" font-family="Liberation Sans, sans-serif" font-size="25" font-weight="bold" fill="#a52a2a" textLength="22.5" lengthAdjust="spacingAndGlyphs">TP</text>
<text x="1091.5" y="168" font-family="Liberation Sans, sans-serif" font-size="25" font-weight="bold" fill="#a52a2a" textLength="22.5" lengthAdjust="spacingAndGlyphs">TP</text>
<text x="1155.5" y="197.3" font-family="Liberation Sans, sans-serif" font-size="25" font-weight="bold" fill="#a52a2a" textLength="22.5" lengthAdjust="spacingAndGlyphs">TP</text>
<text x="1443.2" y="138.2" font-family="Liberation Sans, sans-serif" font-size="25" font-weight="bold" fill="#a52a2a" textLength="22.5" lengthAdjust="spacingAndGlyphs">TP</text>
<text x="1555.4" y="171.9" font-family="Liberation Sans, sans-serif" font-size="25" font-weight="bold" fill="#a52a2a" textLength="22.5" lengthAdjust="spacingAndGlyphs">TP</text>
<text x="1795.1" y="98.6" font-family="Liberation Sans, sans-serif" font-size="25" font-weight="bold" fill="#a52a2a" textLength="22.5" lengthAdjust="spacingAndGlyphs">TP</text>
<g shape-rendering="crispEdges" fill="none" stroke="#000" stroke-width="1">
<rect x="3.5" y="4.5" width="1868" height="418"/>
<rect x="3.5" y="424.5" width="1868" height="94"/>
</g>
<g shape-rendering="crispEdges" fill="#000">
<rect x="1872" y="29" width="4" height="1"/>
<rect x="1872" y="94" width="4" height="1"/>
<rect x="1872" y="158" width="4" height="1"/>
<rect x="1872" y="223" width="4" height="1"/>
<rect x="1872" y="288" width="4" height="1"/>
<rect x="1872" y="352" width="4" height="1"/>
<rect x="1872" y="425" width="4" height="1"/><rect x="1872" y="518" width="4" height="1"/>
<rect x="3" y="519" width="1" height="4"/>
<rect x="131" y="519" width="1" height="4"/>
<rect x="259" y="519" width="1" height="4"/>
<rect x="387" y="519" width="1" height="4"/>
<rect x="515" y="519" width="1" height="4"/>
<rect x="643" y="519" width="1" height="4"/>
<rect x="771" y="519" width="1" height="4"/>
<rect x="899" y="519" width="1" height="4"/>
<rect x="1027" y="519" width="1" height="4"/>
<rect x="1155" y="519" width="1" height="4"/>
<rect x="1283" y="519" width="1" height="4"/>
<rect x="1411" y="519" width="1" height="4"/>
<rect x="1539" y="519" width="1" height="4"/>
<rect x="1667" y="519" width="1" height="4"/>
<rect x="1795" y="519" width="1" height="4"/>
</g>
<path d="M1468,5H1484L1476,13Z" fill="#2f4f4f"/>
<path d="M4,510.5V518H11.5Z" fill="#2f4f4f"/>
<rect x="1874" y="100" width="43" height="17" fill="#2f4f4f" shape-rendering="crispEdges"/>
<g filter="url(#th)"><text x="1876.7" y="35" font-family="Liberation Sans, sans-serif" font-size="14" fill="#000" textLength="46.3" lengthAdjust="spacingAndGlyphs">2164.5</text></g>
<g filter="url(#th)"><text x="1876.7" y="100" font-family="Liberation Sans, sans-serif" font-size="14" fill="#000" textLength="46.3" lengthAdjust="spacingAndGlyphs">2163.2</text></g>
<g filter="url(#th)"><text x="1876.7" y="164" font-family="Liberation Sans, sans-serif" font-size="14" fill="#000" textLength="46.3" lengthAdjust="spacingAndGlyphs">2161.9</text></g>
<g filter="url(#th)"><text x="1876.7" y="229" font-family="Liberation Sans, sans-serif" font-size="14" fill="#000" textLength="46.3" lengthAdjust="spacingAndGlyphs">2160.6</text></g>
<g filter="url(#th)"><text x="1876.7" y="294" font-family="Liberation Sans, sans-serif" font-size="14" fill="#000" textLength="46.3" lengthAdjust="spacingAndGlyphs">2159.3</text></g>
<g filter="url(#th)"><text x="1876.7" y="358" font-family="Liberation Sans, sans-serif" font-size="14" fill="#000" textLength="46.3" lengthAdjust="spacingAndGlyphs">2158.0</text></g>
<g filter="url(#th)"><text x="1877.7" y="114" font-family="Liberation Sans, sans-serif" font-size="14" fill="#fff" textLength="46.3" lengthAdjust="spacingAndGlyphs">2162.9</text></g>
<g filter="url(#th)"><text x="1876.5" y="438" font-family="Liberation Sans, sans-serif" font-size="14" fill="#000" textLength="36.6" lengthAdjust="spacingAndGlyphs">230.3</text></g>
<g filter="url(#th)"><text x="1876.0" y="464.8" font-family="Liberation Sans, sans-serif" font-size="14" fill="#000" textLength="21.0" lengthAdjust="spacingAndGlyphs">0.0</text></g>
<g filter="url(#th)"><text x="1876.0" y="514.5" font-family="Liberation Sans, sans-serif" font-size="14" fill="#000" textLength="42.0" lengthAdjust="spacingAndGlyphs">-372.3</text></g>
<g filter="url(#th)"><text x="3.6" y="535.8" font-family="Liberation Sans, sans-serif" font-size="14" fill="#000" textLength="76.6" lengthAdjust="spacingAndGlyphs">17 Jan 2022</text></g>
<g filter="url(#th)"><text x="131.6" y="535.8" font-family="Liberation Sans, sans-serif" font-size="14" fill="#000" textLength="81.6" lengthAdjust="spacingAndGlyphs">17 Jan 14:07</text></g>
<g filter="url(#th)"><text x="259.6" y="535.8" font-family="Liberation Sans, sans-serif" font-size="14" fill="#000" textLength="81.6" lengthAdjust="spacingAndGlyphs">17 Jan 14:16</text></g>
<g filter="url(#th)"><text x="387.6" y="535.8" font-family="Liberation Sans, sans-serif" font-size="14" fill="#000" textLength="81.6" lengthAdjust="spacingAndGlyphs">17 Jan 14:24</text></g>
<g filter="url(#th)"><text x="515.6" y="535.8" font-family="Liberation Sans, sans-serif" font-size="14" fill="#000" textLength="81.6" lengthAdjust="spacingAndGlyphs">17 Jan 14:32</text></g>
<g filter="url(#th)"><text x="643.6" y="535.8" font-family="Liberation Sans, sans-serif" font-size="14" fill="#000" textLength="81.6" lengthAdjust="spacingAndGlyphs">17 Jan 14:40</text></g>
<g filter="url(#th)"><text x="771.6" y="535.8" font-family="Liberation Sans, sans-serif" font-size="14" fill="#000" textLength="81.6" lengthAdjust="spacingAndGlyphs">17 Jan 14:48</text></g>
<g filter="url(#th)"><text x="899.6" y="535.8" font-family="Liberation Sans, sans-serif" font-size="14" fill="#000" textLength="81.6" lengthAdjust="spacingAndGlyphs">17 Jan 14:56</text></g>
<g filter="url(#th)"><text x="1027.6" y="535.8" font-family="Liberation Sans, sans-serif" font-size="14" fill="#000" textLength="81.6" lengthAdjust="spacingAndGlyphs">17 Jan 15:04</text></g>
<g filter="url(#th)"><text x="1155.6" y="535.8" font-family="Liberation Sans, sans-serif" font-size="14" fill="#000" textLength="81.6" lengthAdjust="spacingAndGlyphs">17 Jan 15:12</text></g>
<g filter="url(#th)"><text x="1283.6" y="535.8" font-family="Liberation Sans, sans-serif" font-size="14" fill="#000" textLength="81.6" lengthAdjust="spacingAndGlyphs">17 Jan 15:20</text></g>
<g filter="url(#th)"><text x="1411.6" y="535.8" font-family="Liberation Sans, sans-serif" font-size="14" fill="#000" textLength="81.6" lengthAdjust="spacingAndGlyphs">17 Jan 15:28</text></g>
<g filter="url(#th)"><text x="1539.6" y="535.8" font-family="Liberation Sans, sans-serif" font-size="14" fill="#000" textLength="81.6" lengthAdjust="spacingAndGlyphs">17 Jan 15:36</text></g>
<g filter="url(#th)"><text x="1667.6" y="535.8" font-family="Liberation Sans, sans-serif" font-size="14" fill="#000" textLength="81.6" lengthAdjust="spacingAndGlyphs">17 Jan 15:44</text></g>
<g filter="url(#th)"><text x="1795.6" y="535.8" font-family="Liberation Sans, sans-serif" font-size="14" fill="#000" textLength="81.6" lengthAdjust="spacingAndGlyphs">17 Jan 15:52</text></g>
<rect x="4" y="427" width="181" height="20" fill="#dcdcdc"/>
<g filter="url(#th)"><text x="70.6" y="26" font-family="Liberation Sans, sans-serif" font-size="14" fill="#000" textLength="54.9" lengthAdjust="spacingAndGlyphs">M2KH22,</text></g>
<g filter="url(#th)"><text x="129.8" y="26" font-family="Liberation Sans, sans-serif" font-size="14" fill="#000" textLength="22.7" lengthAdjust="spacingAndGlyphs">M1:</text></g>
<g filter="url(#th)"><text x="160.8" y="26" font-family="Liberation Sans, sans-serif" font-size="14" fill="#000" textLength="33.2" lengthAdjust="spacingAndGlyphs">Micro</text></g>
<g filter="url(#th)"><text x="197.0" y="26" font-family="Liberation Sans, sans-serif" font-size="14" fill="#000" textLength="38.0" lengthAdjust="spacingAndGlyphs">E-mini</text></g>
<g filter="url(#th)"><text x="238.0" y="26" font-family="Liberation Sans, sans-serif" font-size="14" fill="#000" textLength="41.2" lengthAdjust="spacingAndGlyphs">Russell</text></g>
<g filter="url(#th)"><text x="282.9" y="26" font-family="Liberation Sans, sans-serif" font-size="14" fill="#000" textLength="31.9" lengthAdjust="spacingAndGlyphs">2000</text></g>
<g filter="url(#th)"><text x="319.0" y="26" font-family="Liberation Sans, sans-serif" font-size="14" fill="#000" textLength="30.3" lengthAdjust="spacingAndGlyphs">($5):</text></g>
<g filter="url(#th)"><text x="352.9" y="26" font-family="Liberation Sans, sans-serif" font-size="14" fill="#000" textLength="38.0" lengthAdjust="spacingAndGlyphs">March</text></g>
<g filter="url(#th)"><text x="395.1" y="26" font-family="Liberation Sans, sans-serif" font-size="14" fill="#000" textLength="31.9" lengthAdjust="spacingAndGlyphs">2022</text></g>
<g filter="url(#th)"><text x="5.8" y="442" font-family="Liberation Sans, sans-serif" font-size="14" fill="#000" textLength="177.4" lengthAdjust="spacingAndGlyphs">FundsEfficiency 0.0 -1.0 -5.0</text></g>
<g filter="url(#th)"><text x="1799.7" y="25.6" font-family="Liberation Sans, sans-serif" font-size="14" fill="#000" textLength="40.3" lengthAdjust="spacingAndGlyphs">Bot FF</text></g>
<g>
<rect x="12.6" y="13.1" width="20.6" height="15.4" rx="2.2" fill="#fff" stroke="none"/>
<path d="M22.9,13.1H14.8a2.2,2.2 0 0 0 -2.2,2.2v11a2.2,2.2 0 0 0 2.2,2.2H22.9" fill="none" stroke="#d93a30" stroke-width="1.4"/>
<path d="M22.9,13.1H31a2.2,2.2 0 0 1 2.2,2.2v11a2.2,2.2 0 0 1 -2.2,2.2H22.9" fill="none" stroke="#1565b0" stroke-width="1.4"/>
<rect x="14.6" y="15.5" width="7.6" height="1.5" fill="#d93a30"/>
<rect x="23.4" y="15.5" width="7.6" height="1.5" fill="#1565b0"/>
<rect x="14.6" y="20.1" width="7.6" height="1.5" fill="#d93a30"/>
<rect x="23.4" y="20.1" width="7.6" height="1.5" fill="#1565b0"/>
<rect x="14.6" y="24.7" width="7.6" height="1.5" fill="#d93a30"/>
<rect x="23.4" y="24.7" width="7.6" height="1.5" fill="#1565b0"/>
<rect x="14.6" y="17.5" width="7.6" height="2" fill="#ffdcd2"/>
<rect x="23.4" y="17.5" width="7.6" height="2" fill="#c4e6ff"/>
<rect x="14.6" y="22.1" width="7.6" height="2" fill="#ffdcd2"/>
<rect x="23.4" y="22.1" width="7.6" height="2" fill="#c4e6ff"/>
</g>
<path d="M44.4,14.6a1.2,1.2 0 0 1 1.2,-1.2h2.4a1.2,1.2 0 0 1 1.2,1.2v4.5h2.8a1.2,1.2 0 0 1 1.2,1.2v6.6a1.2,1.2 0 0 1 -1.2,1.2h-6.4a1.2,1.2 0 0 1 -1.2,-1.2Z" fill="#ffe0d6" stroke="#d93a30" stroke-width="1.6"/>
<path d="M65.3,14.6a1.2,1.2 0 0 0 -1.2,-1.2h-2.4a1.2,1.2 0 0 0 -1.2,1.2v4.5h-2.8a1.2,1.2 0 0 0 -1.2,1.2v6.6a1.2,1.2 0 0 0 1.2,1.2h6.4a1.2,1.2 0 0 0 1.2,-1.2Z" fill="#bfe4ff" stroke="#1565b0" stroke-width="1.6"/>
<rect x="51.9" y="13.2" width="6.3" height="3" rx="1.2" fill="#fff" stroke="#a4a4a4" stroke-width="1.3"/>
<path d="M1850.6,20.5v3.6q0,2.7 6,2.7q6,0 6,-2.7v-3.6" fill="#c4e6ff" stroke="#1767b3" stroke-width="1.6"/>
<path d="M1846.2,17.5L1856.7,12.9L1867.4,17.5L1856.7,22.2Z" fill="#c4e6ff" stroke="#1767b3" stroke-width="1.6" stroke-linejoin="round"/>
<path d="M1847.9,18.2V26.4M1846.4,26.2H1849.4" fill="none" stroke="#1767b3" stroke-width="1.8"/>
<rect x="1781" y="27" width="80" height="14" fill="#bcbcbc" shape-rendering="crispEdges"/>
<rect x="1783" y="29" width="78" height="12" fill="#a0a0a0" shape-rendering="crispEdges"/>
<clipPath id="cb1"><rect x="1783" y="29" width="76" height="11"/></clipPath>
<g><text x="1777" y="38.2" font-family="Liberation Mono, monospace" font-size="12.5" fill="#000" textLength="84" lengthAdjust="spacingAndGlyphs" clip-path="url(#cb1)">кл.Торгов.</text></g>
<rect x="1781" y="45" width="37" height="14" fill="#bcbcbc" shape-rendering="crispEdges"/>
<rect x="1783" y="47" width="35" height="12" fill="#a0a0a0" shape-rendering="crispEdges"/>
<clipPath id="cb2"><rect x="1783" y="47" width="33" height="11"/></clipPath>
<g><text x="1773.9" y="55.5" font-family="Liberation Mono, monospace" font-size="11.5" fill="#000" textLength="48.3" lengthAdjust="spacingAndGlyphs" clip-path="url(#cb2)">Вкл.BUY</text></g>
<rect x="1824" y="45" width="37" height="14" fill="#bcbcbc" shape-rendering="crispEdges"/>
<rect x="1826" y="47" width="35" height="12" fill="#a0a0a0" shape-rendering="crispEdges"/>
<clipPath id="cb3"><rect x="1826" y="47" width="33" height="11"/></clipPath>
<g><text x="1814.4" y="55.5" font-family="Liberation Mono, monospace" font-size="11.5" fill="#000" textLength="55.2" lengthAdjust="spacingAndGlyphs" clip-path="url(#cb3)">Вкл.SELL</text></g>
<defs><filter id="th" color-interpolation-filters="sRGB"><feComponentTransfer><feFuncA type="discrete" tableValues="0 0 1 1"/></feComponentTransfer></filter><clipPath id="mainclip"><rect x="4" y="5" width="1867" height="417"/></clipPath></defs>
</svg></body></html>
